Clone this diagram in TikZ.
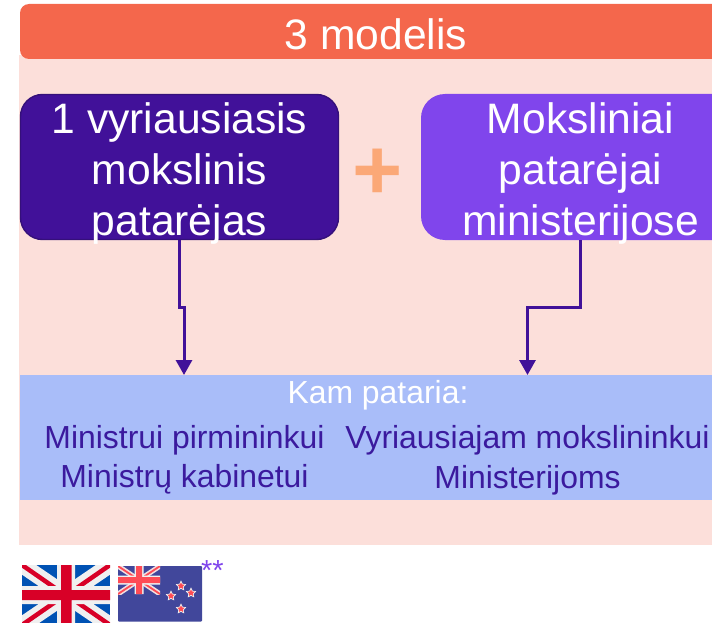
\documentclass[tikz,border=0pt]{standalone}
\usepackage{fontspec}
\setmainfont{Liberation Sans}
\usetikzlibrary{arrows.meta,shapes.geometric}
\definecolor{hdr}{HTML}{F4674C}
\definecolor{panel}{HTML}{FCDFDA}
\definecolor{dark}{HTML}{411199}
\definecolor{darkb}{HTML}{35107A}
\definecolor{viol}{HTML}{8045EC}
\definecolor{bluebx}{HTML}{A9BDF9}
\definecolor{txtb}{HTML}{3B1A9E}
\definecolor{plus}{HTML}{FBA877}
\definecolor{ukblue}{HTML}{0052B4}
\definecolor{ukred}{HTML}{D80027}
\definecolor{ukwhite}{HTML}{F0F0F0}
\definecolor{nzblue}{HTML}{41479B}
\definecolor{nzred}{HTML}{FF4B55}
\tikzset{
  x=1pt,y=-1pt,
  bigtext/.style={text=white,font=\fontsize{42.6}{51}\selectfont,align=center},
  lowtext/.style={text=txtb,font=\fontsize{31.9}{39.5}\selectfont,align=center},
  link/.style={draw=dark,line width=3pt,-{Triangle[length=15pt,width=16pt]}},
}
\begin{document}
\begin{tikzpicture}
\useasboundingbox (0,0) rectangle (712,623);
\clip (0,0) rectangle (712,623);
\fill[panel] (19,55) rectangle (720,545);
\fill[hdr,rounded corners=9pt] (20,4) rectangle (760,59);
\node[bigtext] (title) at (376,34) {3 modelis};
% boxes
\node[draw=darkb,line width=1.4pt,fill=dark,rounded corners=22pt,minimum width=318pt,minimum height=145pt,inner sep=0pt,outer sep=0pt] (boss) at (179.5,167) {};
\node[fill=viol,rounded corners=24pt,minimum width=318pt,minimum height=146pt,inner sep=0pt,outer sep=0pt] (adv) at (580,167) {};
\node[bigtext] (bosst) at (179.5,173.5) {1 vyriausiasis\\mokslinis\\patarėjas};
\node[bigtext] (advt) at (580.5,173.5) {Moksliniai\\patarėjai\\ministerijose};
\node[text=plus,font=\bfseries\fontsize{86}{86}\selectfont,inner sep=0pt] (plusn) at (378,174) {+};
% blue band
\node[fill=bluebx,minimum width=700pt,minimum height=125pt,inner sep=0pt,outer sep=0pt] (band) at (370,437.5) {};
\node[text=white,font=\fontsize{31.9}{39}\selectfont,inner sep=0pt] (kam) at (378,395) {Kam pataria:};
\node[lowtext] (left) at (184.5,460) {Ministrui pirmininkui\\Ministrų kabinetui};
\node[lowtext] (right) at (527.5,460) {Vyriausiajam mokslininkui\\Ministerijoms};
% connectors
\coordinate (t1) at (184,375);
\coordinate (t2) at (527.5,375);
\draw[link] (boss.south) -- (179.5,307) -- (184,307) -- (t1);
\draw[link] (adv.south) -- (580,307) -- (527.5,307) -- (t2);
% UK flag
\begin{scope}
\clip (22,565) rectangle (110,623);
\fill[ukblue] (22,565) rectangle (110,625);
\draw[ukwhite,line width=16pt] (22,565) -- (110,625) (110,565) -- (22,625);
\draw[ukred,line width=4.5pt] (22,565) -- (58,590) (110,625) -- (74,600) (110,565) -- (74,590) (22,625) -- (58,600);
\fill[ukwhite] (22,586) rectangle (110,604) (57,565) rectangle (75,625);
\fill[ukred] (22,590) rectangle (110,600) (61,565) rectangle (71.5,625);
\end{scope}
% NZ flag
\fill[nzblue,rounded corners=0.8pt] (118,566) rectangle (202,621.5);
\begin{scope}
\clip (118,566) rectangle (160,594);
\fill[nzblue] (118,566) rectangle (160,594);
\draw[ukwhite!90!nzred,line width=5pt] (118,566) -- (160,594) (160,566) -- (118,594);
\draw[nzred,line width=1.8pt] (118,566) -- (160,594) (160,566) -- (118,594);
\fill[ukwhite] (118,575.5) rectangle (160,584.5) (134.5,566) rectangle (143.5,594);
\fill[nzred] (118,577) rectangle (160,583) (136,566) rectangle (142,594);
\end{scope}
\foreach \sx/\sy/\n in {181/586/a,191/593/b,171/596/c,181/609/d}{
  \node[star,star points=5,star point ratio=2,fill=nzred,draw=ukwhite,line width=0.7pt,minimum size=9.5pt,inner sep=0pt] (star\n) at (\sx,\sy) {};
}
\node[text=viol,font=\fontsize{29}{29}\selectfont,inner sep=0pt,anchor=north west] (stars) at (201,560) {**};
\end{tikzpicture}
\end{document}
